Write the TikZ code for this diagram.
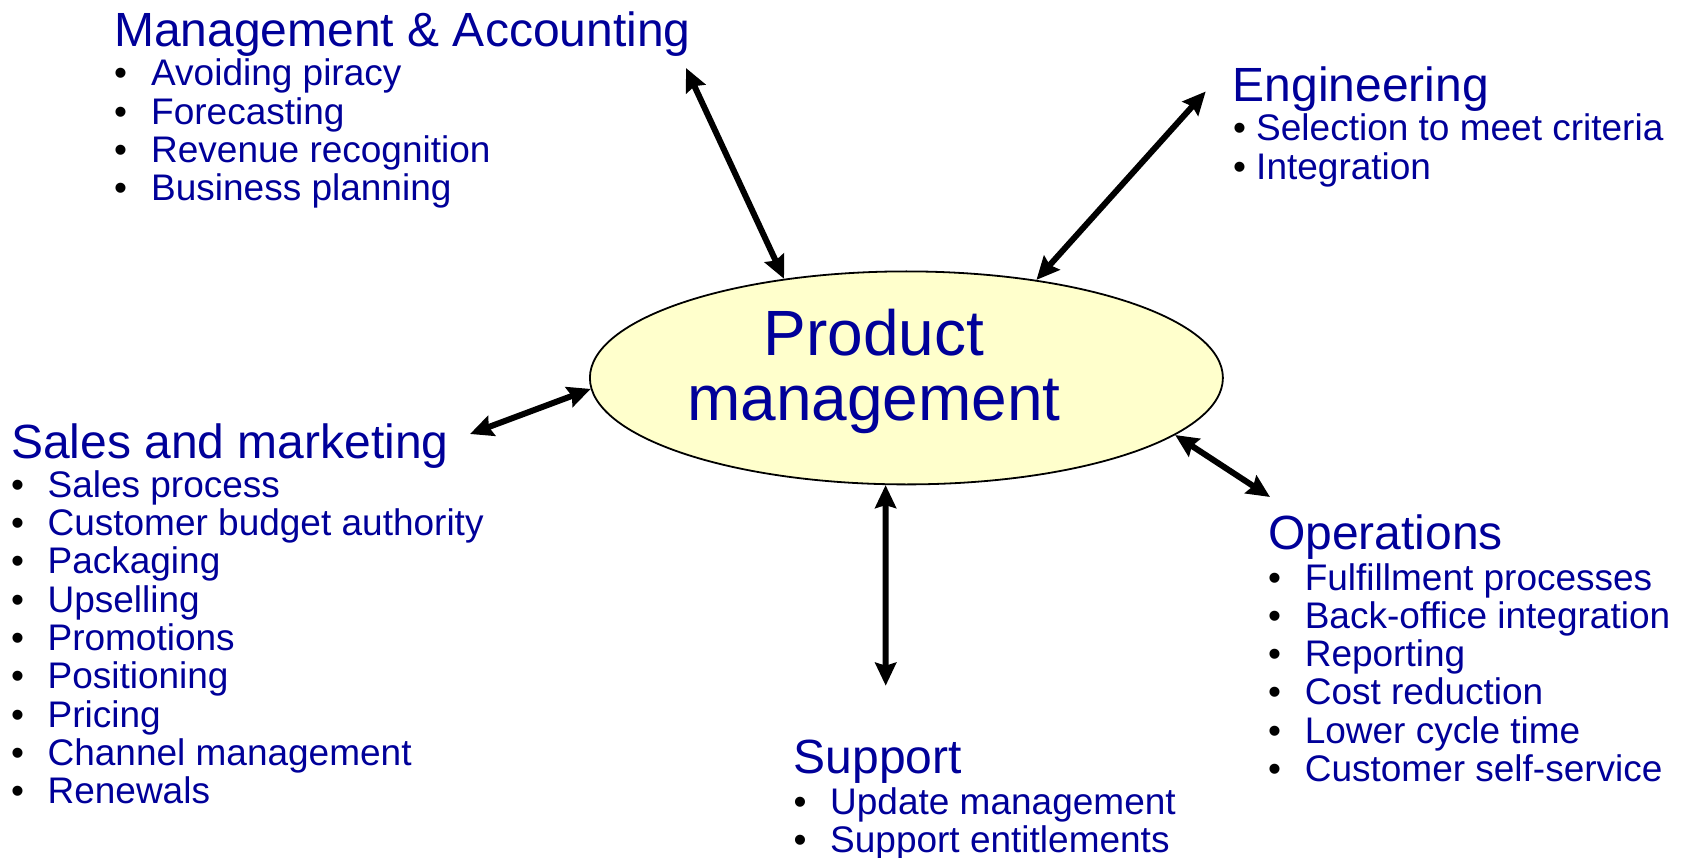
\documentclass[tikz,border=0pt]{standalone}
\usepackage{fontspec}
\setmainfont{Liberation Sans}
\usetikzlibrary{arrows.meta,shapes.geometric}
\definecolor{navy}{HTML}{000099}
\definecolor{pale}{HTML}{FFFFCC}
% one bulleted line: bullet box of a given width, then the item
\newcommand{\bi}[2][36.6pt]{\hbox{\makebox[#1][l]{\color{black}\textbullet}#2}}

\begin{document}
\begin{tikzpicture}
[x=1pt,y=-1pt
,hd/.style={anchor=base west,inner sep=0pt,text=navy,font=\fontsize{48pt}{50pt}\selectfont}
,lst/.style={anchor=base west,inner sep=0pt,text=navy,font=\fontsize{37pt}{38.3pt}\selectfont}
,hub/.style={ellipse,draw,line width=1.8pt,fill=pale,minimum width=633pt,minimum height=213pt,inner sep=0pt}
,lnk/.style={line width=6pt,arrows={Stealth[length=23pt,width=21pt,inset=3pt]-Stealth[length=23pt,width=21pt,inset=3pt]}}]
\useasboundingbox (0,0) rectangle (1688,858);

\node[hub] (pm) at (906.4,377.9) {};
\node[anchor=base,inner sep=0pt,text=navy,font=\fontsize{64pt}{65pt}\selectfont] (pmtxt) at (874,355)
  {\vtop{\hbox to 0pt{\hss Product\hss}\hbox to 0pt{\hss management\hss}}};

\node[hd] (mgmt) at (114,46.3) {Management \& Accounting};
\node[lst] (mgmtlist) at (114,86) {\vtop{\bi[37pt]{Avoiding piracy}\bi[37pt]{Forecasting}\bi[37pt]{Revenue recognition}\bi[37pt]{Business planning}}};

\node[hd] (eng) at (1232.6,102) {Engineering};
\node[lst] (englist) at (1233,141) {\vtop{\bi[23pt]{Selection to meet criteria}\bi[23pt]{Integration}}};

\node[hd] (sales) at (10.8,458.6) {Sales and marketing};
\node[lst] (saleslist) at (10.8,497.3) {\vtop{\bi{Sales process}\bi{Customer budget authority}\bi{Packaging}\bi{Upselling}\bi{Promotions}\bi{Positioning}\bi{Pricing}\bi{Channel management}\bi{Renewals}}};

\node[hd] (ops) at (1268,549) {Operations};
\node[lst] (opslist) at (1268,590) {\vtop{\bi{Fulfillment processes}\bi{Back-office integration}\bi{Reporting}\bi{Cost reduction}\bi{Lower cycle time}\bi{Customer self-service}}};

\node[hd] (sup) at (793.4,773) {Support};
\node[lst] (suplist) at (793.4,814) {\vtop{\bi{Update management}\bi{Support entitlements}}};

\coordinate (mgmtend) at (686,68);
\coordinate (engend) at (1205.7,91.5);
\coordinate (salesend) at (470,434);
\coordinate (supend) at (885.7,685.7);
\coordinate (opsend) at (1270,497);

\draw[lnk] (mgmtend) -- (pm.141.9);
\draw[lnk] (engend) -- (pm.37);
\draw[lnk] (salesend) -- (pm.182.5);
\draw[lnk] (supend) -- (pm.259);
\draw[lnk] (opsend) -- (pm.348.5);
\end{tikzpicture}
\end{document}
